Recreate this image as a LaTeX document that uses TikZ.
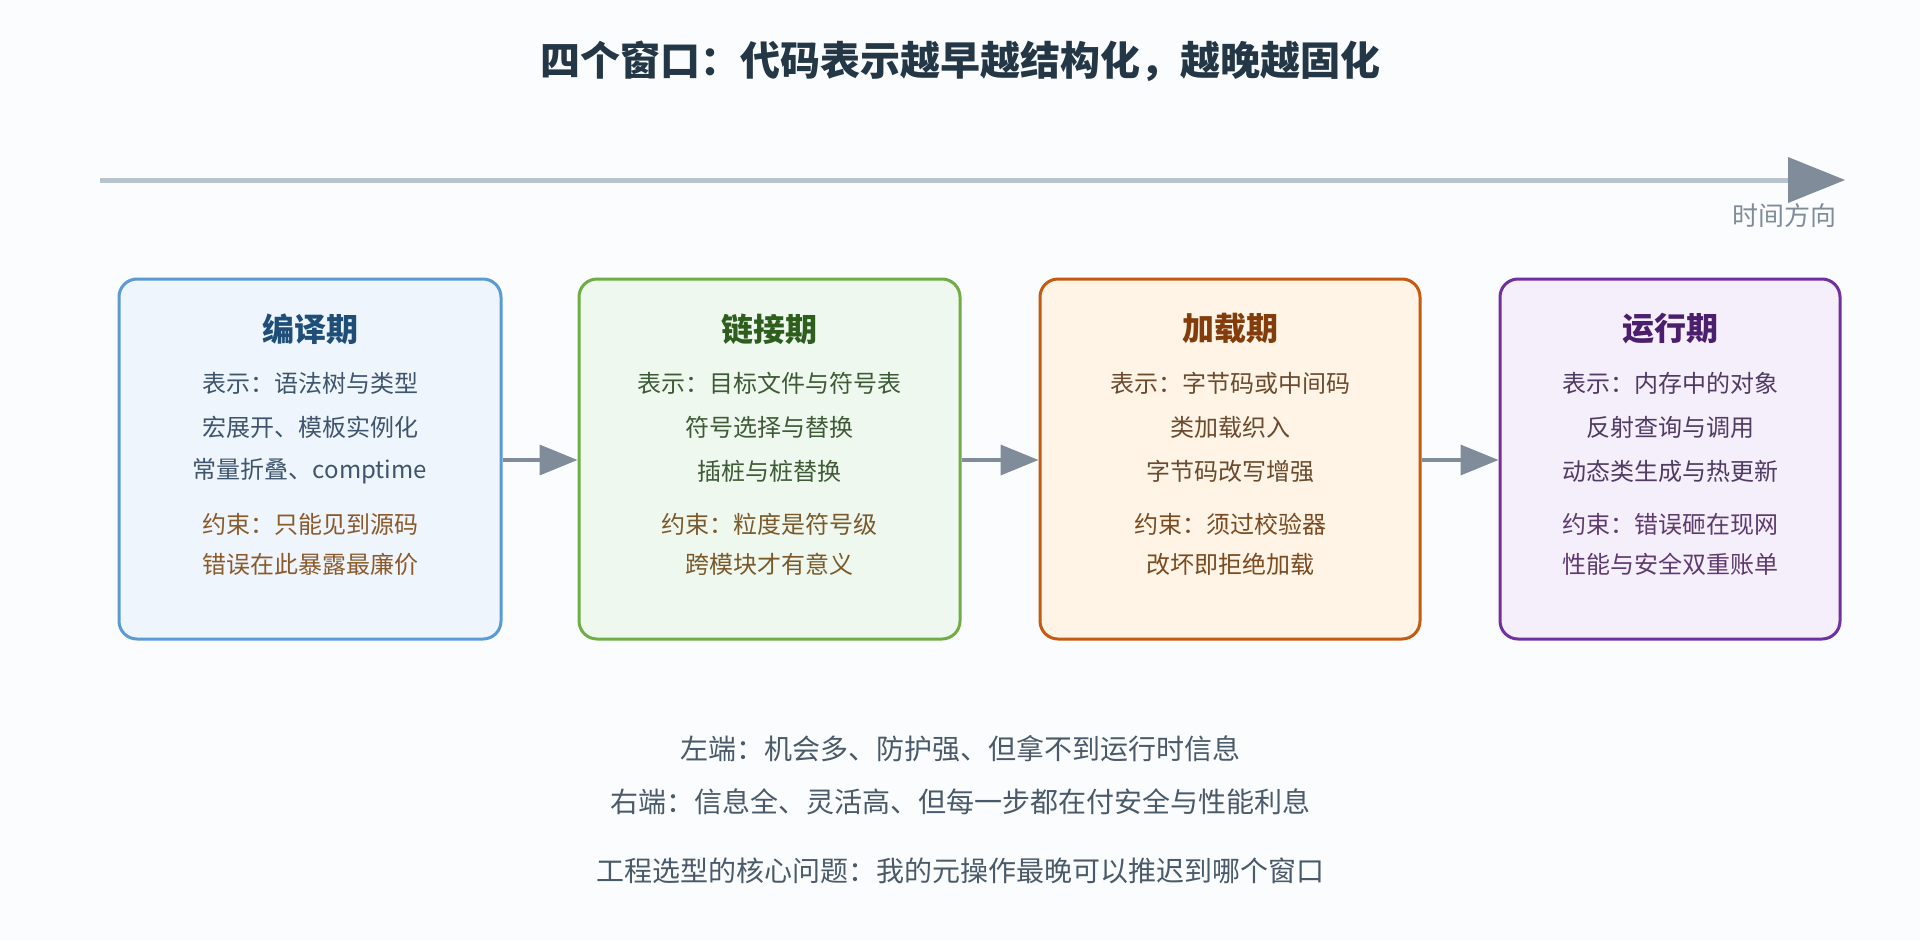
\documentclass[tikz,border=0pt]{standalone}
\usepackage{fontspec}
\setmainfont{Noto Sans CJK SC}
\usetikzlibrary{arrows.meta}
\definecolor{bg}{HTML}{FBFCFE}
\definecolor{axis}{HTML}{B8C3CE}
\definecolor{arr}{HTML}{808C9A}
\definecolor{ttl}{HTML}{243746}
\definecolor{bA}{HTML}{5B9BD5}\definecolor{fA}{HTML}{EEF5FD}\definecolor{tA}{HTML}{1F4E79}\definecolor{xA}{HTML}{3F556E}\definecolor{cA}{HTML}{8B5A2B}
\definecolor{bB}{HTML}{70AD47}\definecolor{fB}{HTML}{EEF8EE}\definecolor{tB}{HTML}{2E5E1E}\definecolor{xB}{HTML}{3E5A36}\definecolor{cB}{HTML}{7A5A2B}
\definecolor{bC}{HTML}{C55A11}\definecolor{fC}{HTML}{FFF4E6}\definecolor{tC}{HTML}{833C0B}\definecolor{xC}{HTML}{6B4A2E}\definecolor{cC}{HTML}{7A4A20}
\definecolor{bD}{HTML}{7030A0}\definecolor{fD}{HTML}{F5EEFB}\definecolor{tD}{HTML}{4B1F6E}\definecolor{xD}{HTML}{4F3B63}\definecolor{cD}{HTML}{5E3B6E}
\definecolor{note}{HTML}{4A5A6A}
\tikzset{
 box/.style={draw=#1,line width=3pt,rounded corners=18pt},
 hd/.style={font=\fontsize{32}{36}\selectfont\bfseries,anchor=center},
 ln/.style={font=\fontsize{24}{28}\selectfont,anchor=center},
 nt/.style={font=\fontsize{28}{32}\selectfont,text=note,anchor=center},
 flow/.style={draw=arr,line width=3.5pt,-{Triangle[length=38pt,width=30pt]}},
}
\begin{document}
\begin{tikzpicture}[x=1pt,y=-1pt]
\fill[bg] (0,0) rectangle (1920,940);
\useasboundingbox (0,0) rectangle (1920,940);
\node[font=\fontsize{40}{46}\selectfont\bfseries,text=ttl] (title) at (960,61) {四个窗口：代码表示越早越结构化，越晚越固化};
\coordinate (ax0) at (100,180);
\coordinate (ax1) at (1790,180);
\coordinate (ax2) at (1845,180);
\draw[axis,line width=5pt] (ax0) -- (ax1);
\fill[arr] (1788,157) -- (ax2) -- (1788,203) -- cycle;
\node[font=\fontsize{26}{30}\selectfont,text=arr,anchor=east] (tl) at (1840,216) {时间方向};
% boxes
\node[box=bA,fill=fA,minimum width=382pt,minimum height=360pt] (A) at (310,459) {};
\node[box=bB,fill=fB,minimum width=381pt,minimum height=360pt] (B) at (769.5,459) {};
\node[box=bC,fill=fC,minimum width=380pt,minimum height=360pt] (C) at (1230,459) {};
\node[box=bD,fill=fD,minimum width=340pt,minimum height=360pt] (D) at (1670,459) {};
\foreach \n/\x/\t/\c/\k/\a/\b/\cc/\d/\e in {
 A/310/tA/xA/cA/编译期/表示：语法树与类型/宏展开、模板实例化/常量折叠、comptime/约束：只能见到源码,
 B/769.5/tB/xB/cB/链接期/表示：目标文件与符号表/符号选择与替换/插桩与桩替换/约束：粒度是符号级,
 C/1230/tC/xC/cC/加载期/表示：字节码或中间码/类加载织入/字节码改写增强/约束：须过校验器,
 D/1670/tD/xD/cD/运行期/表示：内存中的对象/反射查询与调用/动态类生成与热更新/约束：错误砸在现网}{
 \node[hd,text=\t] (\n h) at (\x,329) {\a};
 \node[ln,text=\c] (\n 1) at (\x,383) {\b};
 \node[ln,text=\c] (\n 2) at (\x,427) {\cc};
 \node[ln,text=\c] (\n 3) at (\x,471) {\d};
 \node[ln,text=\k] (\n 4) at (\x,524) {\e};
}
\node[ln,text=cA] (A5) at (310,564) {错误在此暴露最廉价};
\node[ln,text=cB] (B5) at (769.5,564) {跨模块才有意义};
\node[ln,text=cC] (C5) at (1230,564) {改坏即拒绝加载};
\node[ln,text=cD] (D5) at (1670,564) {性能与安全双重账单};
\draw[flow] (A.east|-0,460) -- (B.west|-0,460);
\draw[flow] (B.east|-0,460) -- (C.west|-0,460);
\draw[flow] (C.east|-0,460) -- (D.west|-0,460);
\node[nt] (n1) at (960,749) {左端：机会多、防护强、但拿不到运行时信息};
\node[nt] (n2) at (960,802) {右端：信息全、灵活高、但每一步都在付安全与性能利息};
\node[nt] (n3) at (960,871) {工程选型的核心问题：我的元操作最晚可以推迟到哪个窗口};
\end{tikzpicture}
\end{document}
